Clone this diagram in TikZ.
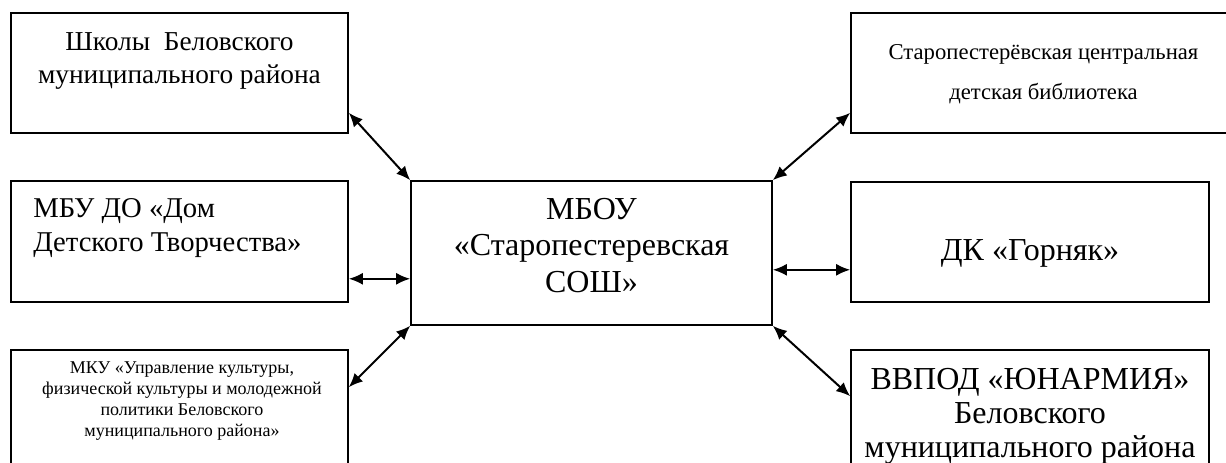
\documentclass[tikz,border=0pt]{standalone}
\usepackage{fontspec}
\setmainfont{Liberation Serif}
\usetikzlibrary{arrows.meta}

\begin{document}
\begin{tikzpicture}[x = 0.75pt, y = -0.75pt,
        box/.style = {draw, line width = 1.2pt, rectangle, inner sep = 0pt},
        txt/.style = {inner sep = 0pt, align = center},
        link/.style = {line width = 1.5pt, {Latex[length = 10.5pt, width = 9pt]}-{Latex[length = 10.5pt, width = 9pt]}}]
    \useasboundingbox (0,0) rectangle (1226,463);
    \clip (0,0) rectangle (1226,463);

    % boxes
    \node[box, minimum width = 252.75pt, minimum height = 90pt] (schools) at (179.5,73) {};
    \node[box, minimum width = 252.75pt, minimum height = 90.75pt] (ddt) at (179.5,241.5) {};
    \node[box, minimum width = 252.75pt, minimum height = 105pt] (mku) at (179.5,420) {};
    \node[box, minimum width = 270.75pt, minimum height = 108pt] (mbou) at (591.5,253) {};
    \node[box, minimum width = 291.75pt, minimum height = 90pt] (lib) at (1045.5,73) {};
    \node[box, minimum width = 268.5pt, minimum height = 90pt] (gornyak) at (1030,242) {};
    \node[box, minimum width = 268.5pt, minimum height = 105pt] (yunarmiya) at (1030,420) {};

    % texts
    \node[txt, anchor = north, font = \fontsize{20.5}{24.75}\selectfont] (schools text) at (179.5,32)
        {Школы\ \ Беловского\\муниципального района};
    \node[txt, align = left, anchor = north west, font = \fontsize{21.5}{25.5}\selectfont] (ddt text) at (33,198)
        {МБУ ДО «Дом\\Детского Творчества»};
    \node[txt, anchor = north, font = \fontsize{13.5}{15.75}\selectfont] (mku text) at (182,361)
        {МКУ «Управление культуры,\\физической культуры и молодежной\\политики Беловского\\муниципального района»};
    \node[txt, anchor = north, font = \fontsize{24}{27.4}\selectfont] (mbou text) at (591.5,198)
        {МБОУ\\«Старопестеревская\\СОШ»};
    \node[txt, anchor = north, font = \fontsize{17}{30}\selectfont] (lib text) at (1043.5,44)
        {Старопестерёвская центральная\\детская библиотека};
    \node[txt, anchor = base, font = \fontsize{24}{27.4}\selectfont] (gornyak text) at (1030,260)
        {ДК «Горняк»};
    \node[txt, anchor = north, font = \fontsize{24}{25.5}\selectfont] (yunarmiya text) at (1030,368)
        {ВВПОД «ЮНАРМИЯ»\\Беловского\\муниципального района};

    % links
    \draw[link] ([yshift = 15.75pt]schools.south east) -- (mbou.north west);
    \draw[link] ([yshift = 18pt]ddt.south east) coordinate (ddt end) -- (ddt end -| mbou.west);
    \draw[link] ([yshift = -28.5pt]mku.north east) -- (mbou.south west);
    \draw[link] (mbou.north east) -- ([yshift = 15.75pt]lib.south west);
    \draw[link] ([yshift = 24.75pt]gornyak.south west) coordinate (gornyak end) -- (gornyak end -| mbou.east);
    \draw[link] (mbou.south east) -- ([yshift = -35.25pt]yunarmiya.north west);
\end{tikzpicture}
\end{document}
